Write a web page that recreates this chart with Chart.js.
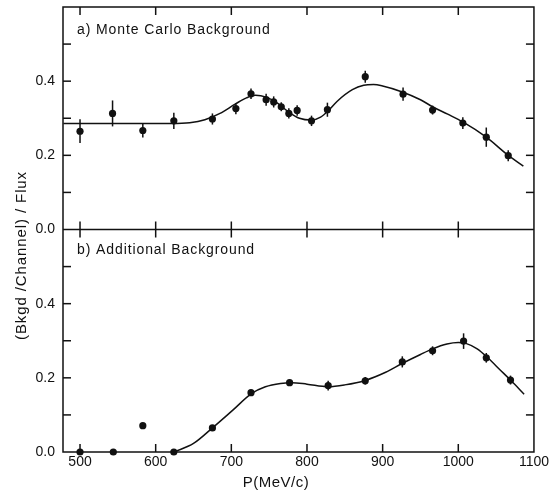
<!DOCTYPE html>
<html>
<head>
<meta charset="utf-8">
<title>Background per channel</title>
<script src="https://cdn.jsdelivr.net/npm/chart.js@4/dist/chart.umd.min.js"></script>
<style>
  html, body { margin: 0; padding: 0; background: #fff; }
  #wrap { position: relative; width: 551px; height: 494px; }
</style>
</head>
<body>
<div id="wrap"><canvas id="bkgdChart"></canvas></div>
<script>
// axis ticks
const xTicks = [500, 600, 700, 800, 900, 1000, 1100];
const yLabelTicks = [0, 0.2, 0.4];
const yMinorTicks = [0.1, 0.2, 0.3, 0.4, 0.5];

// a) Monte Carlo background - measured points
const mcP = [500, 543, 583, 624, 675, 706, 726, 746, 756, 766, 776, 787, 806, 827, 877, 927, 966, 1006, 1037, 1066];
const mcVal = [0.265, 0.313, 0.267, 0.293, 0.298, 0.326, 0.366, 0.350, 0.344, 0.331, 0.313, 0.321, 0.293, 0.323, 0.412, 0.365, 0.322, 0.287, 0.249, 0.199];
const mcErr = [0.032, 0.035, 0.019, 0.022, 0.015, 0.015, 0.014, 0.016, 0.015, 0.012, 0.014, 0.014, 0.014, 0.019, 0.016, 0.018, 0.012, 0.016, 0.026, 0.015];

// a) fitted curve
const mcCurveP = [478, 560, 620, 645, 665, 685, 705, 720, 732, 746, 760, 775, 790, 806, 818, 828, 840, 860, 875, 888, 900, 926, 950, 966, 986, 1006, 1037, 1066, 1086];
const mcCurveVal = [0.286, 0.286, 0.286, 0.288, 0.296, 0.313, 0.338, 0.355, 0.362, 0.357, 0.342, 0.318, 0.300, 0.295, 0.303, 0.320, 0.346, 0.377, 0.389, 0.391, 0.387, 0.371, 0.350, 0.331, 0.311, 0.290, 0.249, 0.200, 0.171];

// b) additional background - measured points
const addP = [500, 544, 583, 624, 675, 726, 777, 828, 877, 926, 966, 1007, 1037, 1069];
const addVal = [0, 0, 0.071, 0, 0.065, 0.160, 0.187, 0.179, 0.192, 0.243, 0.273, 0.299, 0.254, 0.194];
const addErr = [0, 0, 0, 0, 0.006, 0.008, 0.008, 0.013, 0.010, 0.015, 0.012, 0.021, 0.013, 0.012];

// b) fitted curve
const addCurveP = [624, 650, 675, 702, 727, 745, 765, 780, 800, 828, 850, 877, 904, 927, 950, 966, 985, 1000, 1010, 1025, 1040, 1055, 1070, 1087];
const addCurveVal = [0, 0.023, 0.065, 0.113, 0.158, 0.176, 0.185, 0.187, 0.183, 0.176, 0.181, 0.193, 0.215, 0.240, 0.263, 0.278, 0.291, 0.295, 0.293, 0.278, 0.252, 0.222, 0.192, 0.156];

const ink = '#111';
const fontFamily = '"Liberation Sans", Arial, sans-serif';

function toXY(xs, ys) {
  return xs.map((x, i) => ({ x: x, y: ys[i] }));
}

// frame, inward ticks, error bars and the text labels
const paperPlugin = {
  id: 'paper',
  afterDatasetsDraw(chart) {
    const ctx = chart.ctx;
    const area = chart.chartArea;
    const xs = chart.scales.x;
    const yTop = chart.scales.yTop;
    const yBot = chart.scales.yBot;
    const mid = yTop.bottom;
    const tick = 8;

    ctx.save();
    ctx.strokeStyle = ink;
    ctx.lineWidth = 1.5;

    function line(x1, y1, x2, y2) {
      ctx.beginPath();
      ctx.moveTo(x1, y1);
      ctx.lineTo(x2, y2);
      ctx.stroke();
    }

    // error bars
    chart.data.datasets.forEach((ds, i) => {
      if (!ds.errors) return;
      const scale = chart.scales[ds.yAxisID];
      chart.getDatasetMeta(i).data.forEach((pt, j) => {
        const e = ds.errors[j];
        if (!e) return;
        const v = ds.data[j].y;
        line(pt.x, scale.getPixelForValue(v + e), pt.x, scale.getPixelForValue(v - e));
      });
    });

    // frame + divider
    ctx.strokeRect(area.left, area.top, area.width, area.height);
    line(area.left, mid, area.right, mid);

    // y ticks, both sides, pointing in
    [yTop, yBot].forEach(s => {
      yMinorTicks.forEach(v => {
        const py = s.getPixelForValue(v);
        line(area.left, py, area.left + tick, py);
        line(area.right - tick, py, area.right, py);
      });
    });

    // x ticks: top edge, across divider, bottom edge
    xTicks.forEach(v => {
      if (v >= xs.max) return;
      const px = xs.getPixelForValue(v);
      line(px, area.top, px, area.top + tick);
      line(px, mid - tick, px, mid + tick);
      line(px, area.bottom - tick, px, area.bottom);
    });

    // panel captions
    ctx.fillStyle = ink;
    ctx.font = '14px ' + fontFamily;
    ctx.letterSpacing = '0.9px';
    ctx.textAlign = 'left';
    ctx.textBaseline = 'middle';
    ctx.fillText('a) Monte Carlo Background', area.left + 14, area.top + 23);
    ctx.fillText('b) Additional Background', area.left + 14, mid + 21);

    // axis titles
    ctx.font = '15px ' + fontFamily;
    ctx.letterSpacing = '0.5px';
    ctx.textAlign = 'center';
    ctx.fillText('P(MeV/c)', area.left + 213, area.bottom + 31);

    ctx.save();
    ctx.letterSpacing = '0.9px';
    ctx.translate(22, (area.top + area.bottom) / 2 + 26);
    ctx.rotate(-Math.PI / 2);
    ctx.fillText('(Bkgd /Channel) / Flux', 0, 0);
    ctx.restore();

    ctx.restore();
  }
};

const tickFont = { family: fontFamily, size: 14 };

function panelAxis() {
  return {
    type: 'linear',
    position: 'left',
    stack: 'panels',
    stackWeight: 1,
    min: 0,
    max: 0.6,
    afterBuildTicks: s => { s.ticks = yLabelTicks.map(v => ({ value: v })); },
    afterFit: s => {
      s.width = 63;
      // labels may hang past the panel edges, no extra room wanted
      s.paddingTop = 0;
      s.paddingBottom = 0;
    },
    grid: { display: false, drawTicks: false },
    border: { display: false },
    ticks: {
      color: ink,
      font: tickFont,
      padding: 8,
      callback: v => Number(v).toFixed(1)
    }
  };
}

document.addEventListener('DOMContentLoaded', function () {
  const ctx = document.getElementById('bkgdChart').getContext('2d');

  new Chart(ctx, {
    type: 'scatter',
    data: {
      datasets: [
        {
          label: 'MC fit',
          type: 'line',
          data: toXY(mcCurveP, mcCurveVal),
          yAxisID: 'yTop',
          borderColor: ink,
          borderWidth: 1.5,
          pointRadius: 0,
          cubicInterpolationMode: 'monotone',
          fill: false
        },
        {
          label: 'MC points',
          data: toXY(mcP, mcVal),
          errors: mcErr,
          yAxisID: 'yTop',
          backgroundColor: ink,
          borderWidth: 0,
          pointRadius: 3.6,
          clip: false
        },
        {
          label: 'Additional fit',
          type: 'line',
          data: toXY(addCurveP, addCurveVal),
          yAxisID: 'yBot',
          borderColor: ink,
          borderWidth: 1.5,
          pointRadius: 0,
          cubicInterpolationMode: 'monotone',
          fill: false
        },
        {
          label: 'Additional points',
          data: toXY(addP, addVal),
          errors: addErr,
          yAxisID: 'yBot',
          backgroundColor: ink,
          borderWidth: 0,
          pointRadius: 3.6,
          clip: false
        }
      ]
    },
    options: {
      responsive: true,
      maintainAspectRatio: false,
      animation: false,
      devicePixelRatio: 1,
      layout: { padding: { top: 7, right: 16, left: 0, bottom: 0 } },
      scales: {
        x: {
          type: 'linear',
          min: 477.5,
          max: 1100,
          afterBuildTicks: s => { s.ticks = xTicks.map(v => ({ value: v })); },
          afterFit: s => { s.height = 42; },
          grid: { display: false, drawTicks: false },
          border: { display: false },
          ticks: {
            color: ink,
            font: tickFont,
            padding: 2,
            maxRotation: 0,
            autoSkip: false,
            callback: v => String(v)
          }
        },
        yBot: panelAxis(),
        yTop: panelAxis()
      },
      plugins: {
        legend: { display: false },
        tooltip: { enabled: false }
      }
    },
    plugins: [paperPlugin]
  });
});
</script>
</body>
</html>
